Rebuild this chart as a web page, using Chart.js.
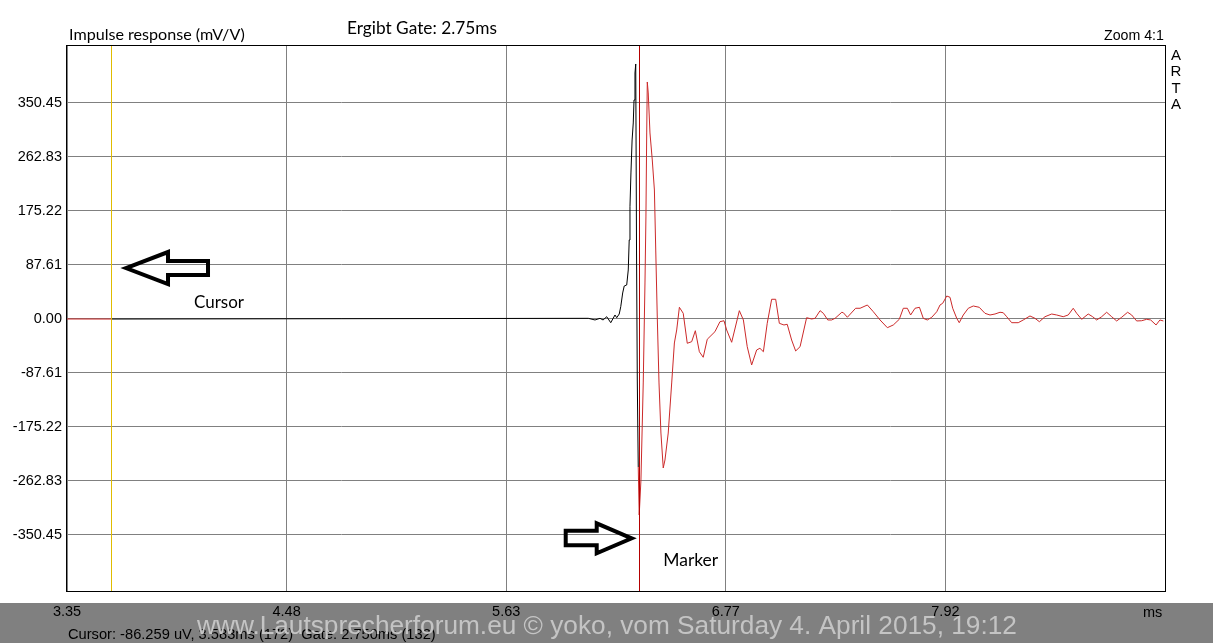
<!DOCTYPE html>
<html>
<head>
<meta charset="utf-8">
<script src="https://cdn.jsdelivr.net/npm/chart.js@4"></script>
<style>
  html, body { margin: 0; padding: 0; background: #fff; }
  #wrap { position: absolute; left: 0; top: 0; width: 1213px; height: 643px; }
</style>
</head>
<body>
<div id="wrap"><canvas id="c" width="1213" height="643"></canvas></div>
<script>
// ---- data ----
const timeMs = [3.350, 3.579, 6.062, 6.097, 6.123, 6.139, 6.158, 6.179, 6.201, 6.210, 6.223, 6.231, 6.241, 6.249, 6.262, 6.270, 6.275, 6.279, 6.284, 6.290, 6.296, 6.300, 6.305, 6.309,
  6.313, 6.317, 6.322, 6.327,
  6.336, 6.348, 6.357, 6.362, 6.366, 6.369, 6.374, 6.383, 6.395, 6.406, 6.413, 6.421, 6.430, 6.440, 6.452, 6.461, 6.478, 6.496, 6.510, 6.522, 6.536, 6.556, 6.577, 6.600, 6.619, 6.640, 6.660, 6.681, 6.721, 6.747, 6.768, 6.782, 6.808, 6.848, 6.869, 6.889, 6.912, 6.938, 6.955, 6.973, 6.993, 7.016, 7.037, 7.056, 7.080, 7.097, 7.120, 7.141, 7.164, 7.198, 7.224, 7.242, 7.268, 7.285, 7.308, 7.328, 7.346, 7.381, 7.389, 7.410, 7.453, 7.476, 7.514, 7.545, 7.580, 7.618, 7.649, 7.680, 7.701, 7.722, 7.739, 7.762, 7.785, 7.805, 7.826, 7.849, 7.875, 7.892, 7.906, 7.927, 7.944, 7.958, 7.979, 7.992, 8.013, 8.039, 8.065, 8.096, 8.126, 8.152, 8.178, 8.204, 8.221, 8.239, 8.265, 8.299, 8.325, 8.360, 8.386, 8.409, 8.438, 8.473, 8.499, 8.533, 8.559, 8.585, 8.603, 8.629, 8.663, 8.686, 8.707, 8.733, 8.759, 8.785, 8.811, 8.837, 8.868, 8.889, 8.915, 8.941, 8.967, 8.988, 9.016, 9.036, 9.054];
const responseMv = [0, -0.086, 1.1, -1.6, 1.1, -1.6, 3.7, -6.0, 6.5, 2.1, 8.1, 20.0, 42.2, 53.5, 55.2, 79.5, 128.2, 182.2, 236.9, 290.4, 318.0, 355.3, 399.1, 413.7,
  111.9, -99.0, -240.1, -318.0,
  -261.2, -103.8, 58.4, 165.5, 301.8, 384.5, 366.7, 301.8, 258.0, 209.3, 111.9, 3.2, -103.8, -185.0, -241.7, -228.8, -185.0, -103.8, -38.9, -17.8, 19.0, 9.2, -39.4, -36.8, -19.0, -53.1, -62.1, -32.9, -20.6, -4.4, -2.8, -17.8, -37.8, 13.5, -1.6, -44.9, -74.6, -50.3, -47.5, -53.1, -7.0, 32.0, 32.0, -7.0, -9.7, -8.6, -34.1, -51.9, -44.9, 2.1, 0, 1.1, 13.5, 9.2, -1.6, -1.6, 1.1, 10.9, 10.2, 2.8, 17.4, 17.4, 22.7, 11.8, -1.6, -14.1, -9.7, -0.5, 17.4, 17.4, 6.5, 17.4, 19.0, 1.1, -1.6, 2.8, 11.8, 22.7, 25.5, 37.3, 35.2, 17.4, 1.1, -6.0, 6.5, 17.4, 21.1, 19.0, 9.2, 6.5, 8.1, 10.9, 10.2, 3.7, -6.0, -6.0, -1.6, 4.9, 1.1, -4.4, 3.7, 8.1, 6.5, 3.7, 6.5, 17.4, 9.2, -0.5, 8.1, 3.7, -1.6, 3.7, 10.9, 3.7, -3.2, 2.8, 10.9, 6.5, -3.2, -2.8, -0.5, -1.6, -9.7, -1.6, -3.2];

const xTickValues = [3.35, 4.4925, 5.635, 6.7775, 7.92, 9.0625];
const xTickLabels = ['3.35', '4.48', '5.63', '6.77', '7.92', ''];
const yTickValues = [-350.44, -262.83, -175.22, -87.61, 0, 87.61, 175.22, 262.83, 350.44];
const yTickLabels = ['-350.45', '-262.83', '-175.22', '-87.61', '0.00', '87.61', '175.22', '262.83', '350.45'];
const xRange = [3.35, 9.0625];
const yRange = [-441.3, 442.9];

const cursorMs = 3.579;   // yellow cursor line
const markerMs = 6.326;   // red marker line (cursor + 2.75 ms gate)

// annotation anchors (data units)
const cursorArrowTip = [3.657, 82.7];
const markerArrowTip = [6.288, -355.8];
const cursorLabelPos = [4.011, 17.4];
const markerLabelPos = [6.452, -400.7];

// ---- styling ----
const RED = '#cc2a2a';
const ARIAL = "'Liberation Sans', Arial, sans-serif";
const CAL = "Lato, 'Open Sans', sans-serif";

function fitText(ctx, text, left, baseline, width, family, color) {
  ctx.save();
  ctx.font = '100px ' + family;
  const w = ctx.measureText(text).width;
  const size = 100 * width / w;
  ctx.font = size.toFixed(2) + 'px ' + family;
  ctx.fillStyle = color;
  ctx.textAlign = 'left';
  ctx.textBaseline = 'alphabetic';
  ctx.fillText(text, left, baseline);
  ctx.restore();
}

function drawArrow(ctx, tipX, tipY, pts) {
  ctx.save();
  ctx.beginPath();
  pts.forEach((p, i) => {
    const x = tipX + p[0], y = tipY + p[1];
    if (i === 0) ctx.moveTo(x, y); else ctx.lineTo(x, y);
  });
  ctx.closePath();
  ctx.lineWidth = 4;
  ctx.lineJoin = 'miter';
  ctx.strokeStyle = '#000';
  ctx.stroke();
  ctx.restore();
}

const overlay = {
  id: 'overlay',
  beforeDraw(chart) {
    const ctx = chart.ctx;
    ctx.save();
    ctx.fillStyle = '#ffffff';
    ctx.fillRect(0, 0, chart.width, chart.height);
    ctx.fillStyle = '#808080';
    ctx.fillRect(0, 603, chart.width, chart.height - 603);
    ctx.restore();
    fitText(ctx, 'Cursor: -86.259 uV, 3.583ms (172)  Gate: 2.750ms (132)', 68, 639, 368, ARIAL, '#000');
    fitText(ctx, 'www.Lautsprecherforum.eu \u00a9 yoko, vom Saturday 4. April 2015, 19:12', 197, 634, 820, ARIAL, '#c4c4c4');
  },
  afterDatasetsDraw(chart) {
    const ctx = chart.ctx;
    const a = chart.chartArea;
    const xs = chart.scales.x;
    ctx.save();
    const top = Math.round(a.top), h = Math.round(a.bottom - a.top);
    // cursor line (yellow)
    const cx = Math.round(xs.getPixelForValue(cursorMs));
    ctx.fillStyle = '#e0bc00';
    ctx.fillRect(cx, top, 1, h);
    // marker line (dark red)
    const mx = Math.round(xs.getPixelForValue(markerMs));
    ctx.fillStyle = '#b40000';
    ctx.fillRect(mx, top, 1, h);
    // frame
    ctx.strokeStyle = '#000';
    ctx.lineWidth = 1;
    ctx.strokeRect(Math.round(a.left) - 0.5, Math.round(a.top) - 0.5, Math.round(a.right - a.left) + 1, Math.round(a.bottom - a.top) + 1);
    ctx.restore();
  },
  afterDraw(chart) {
    const ctx = chart.ctx;
    const xs = chart.scales.x, ys = chart.scales.y;
    fitText(ctx, 'Impulse response (mV/V)', 69, 40, 176, CAL, '#000');
    fitText(ctx, 'Ergibt Gate: 2.75ms', 347, 34, 150, CAL, '#000');
    fitText(ctx, 'Zoom 4:1', 1104, 40, 60, ARIAL, '#000');
    // ARTA vertical letters
    ctx.save();
    ctx.font = '15px ' + ARIAL;
    ctx.fillStyle = '#000';
    ctx.textAlign = 'center';
    ctx.textBaseline = 'alphabetic';
    ['A', 'R', 'T', 'A'].forEach((ch, i) => ctx.fillText(ch, 1176, 60 + i * 16.4));
    // ms unit
    ctx.font = '14.5px ' + ARIAL;
    ctx.textAlign = 'left';
    ctx.fillText('ms', 1143, 617);
    ctx.restore();
    // annotations
    const lt = [xs.getPixelForValue(cursorArrowTip[0]), ys.getPixelForValue(cursorArrowTip[1])];
    drawArrow(ctx, lt[0], lt[1], [[0, 0], [42, -16], [42, -7], [82, -7], [82, 7], [42, 7], [42, 16]]);
    const rt = [xs.getPixelForValue(markerArrowTip[0]), ys.getPixelForValue(markerArrowTip[1])];
    drawArrow(ctx, rt[0], rt[1], [[0, 0], [-35, -15], [-35, -7.5], [-66, -7.5], [-66, 7], [-35, 7], [-35, 15]]);
    fitText(ctx, 'Cursor', xs.getPixelForValue(cursorLabelPos[0]), ys.getPixelForValue(cursorLabelPos[1]), 50, CAL, '#000');
    fitText(ctx, 'Marker', xs.getPixelForValue(markerLabelPos[0]), ys.getPixelForValue(markerLabelPos[1]), 55, CAL, '#000');
  }
};

new Chart(document.getElementById('c'), {
  type: 'line',
  data: {
    datasets: [{
      data: timeMs.map((t, i) => ({ x: t, y: responseMv[i] })),
      borderColor: RED,
      borderWidth: 1,
      pointRadius: 0,
      tension: 0,
      fill: false,
      segment: {
        borderColor: c => (c.p0.parsed.x >= cursorMs && c.p1.parsed.x <= markerMs) ? '#000000' : RED
      }
    }]
  },
  options: {
    responsive: false,
    animation: false,
    devicePixelRatio: 1,
    layout: { padding: { top: 46, right: 48, bottom: 0, left: 0 } },
    plugins: { legend: { display: false }, tooltip: { enabled: false } },
    scales: {
      x: {
        type: 'linear',
        min: xRange[0], max: xRange[1],
        afterBuildTicks: s => { s.ticks = xTickValues.map(v => ({ value: v })); },
        afterFit: s => { s.height = 52; },
        grid: { color: '#808080', lineWidth: 1, drawTicks: false },
        border: { display: false },
        ticks: {
          autoSkip: false, maxRotation: 0, padding: 12, color: '#000',
          font: { family: ARIAL, size: 14.5 },
          callback: (v, i) => xTickLabels[i]
        }
      },
      y: {
        type: 'linear',
        min: yRange[0], max: yRange[1],
        afterBuildTicks: s => { s.ticks = yTickValues.map(v => ({ value: v })); },
        afterFit: s => { s.width = 67; },
        grid: { color: '#808080', lineWidth: 1, drawTicks: false },
        border: { display: false },
        ticks: {
          autoSkip: false, padding: 5, color: '#000',
          font: { family: ARIAL, size: 14.5 },
          callback: (v, i) => yTickLabels[i]
        }
      }
    }
  },
  plugins: [overlay]
});
</script>
</body>
</html>
